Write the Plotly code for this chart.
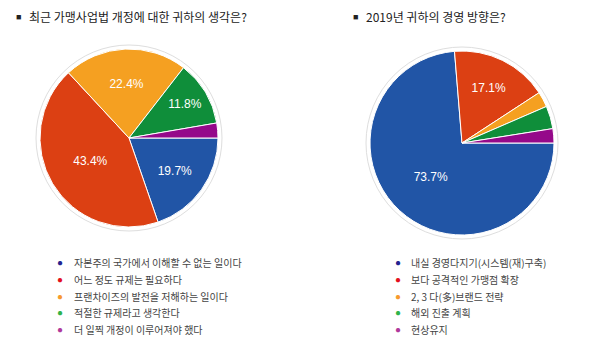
import plotly.graph_objects as go

W, H = 600, 345

title1 = "최근 가맹사업법 개정에 대한 귀하의 생각은?"
title2 = "2019년 귀하의 경영 방향은?"

labels1 = ["자본주의 국가에서 이해할 수 없는 일이다", "어느 정도 규제는 필요하다",
           "프랜차이즈의 발전을 저해하는 일이다", "적절한 규제라고 생각한다",
           "더 일찍 개정이 이루어져야 했다"]
values1 = [19.7, 43.4, 22.4, 11.8, 2.7]

labels2 = ["내실 경영다지기(시스템(재)구축)", "보다 공격적인 가맹점 확장",
           "2, 3 다(多)브랜드 전략", "해외 진출 계획", "현상유지"]
values2 = [73.7, 17.1, 2.7, 4.0, 2.5]

slice_colors = ["#2155a6", "#dc4013", "#f5a021", "#0f8e3a", "#95098a"]
dot_colors = ["#23238f", "#e3101d", "#f79a2e", "#2fb34a", "#b0399b"]

FONT = "Noto Sans CJK KR"


def px_x(x):
    return x / W


def px_y(y):
    return 1 - y / H


def pie_domain(cx, cy, r):
    return dict(x=[px_x(cx - r), px_x(cx + r)], y=[px_y(cy + r), px_y(cy - r)])


pies = [
    dict(labels=labels1, values=values1, cx=129, cy=138, r=89),
    dict(labels=labels2, values=values2, cx=462, cy=143, r=92),
]

fig = go.Figure()
shapes = []
for p in pies:
    texts = [f"{v}%" if v >= 10 else "" for v in p["values"]]
    fig.add_trace(go.Pie(
        labels=p["labels"], values=p["values"], text=texts,
        textinfo="text", textposition="inside", insidetextorientation="horizontal",
        textfont=dict(color="white", size=12, family="Liberation Sans, Arial"),
        marker=dict(colors=slice_colors, line=dict(color="white", width=1)),
        sort=False, direction="clockwise", rotation=90,
        domain=pie_domain(p["cx"], p["cy"], p["r"]),
        showlegend=False, hoverinfo="label+percent",
    ))
    rr = p["r"] + 4
    shapes.append(dict(type="circle", xref="paper", yref="paper",
                       x0=px_x(p["cx"] - rr), x1=px_x(p["cx"] + rr),
                       y0=px_y(p["cy"] + rr), y1=px_y(p["cy"] - rr),
                       line=dict(color="#dedede", width=1), layer="below"))

annotations = []
for sx, tx, t in [(18, 27, title1), (355, 364, title2)]:
    annotations.append(dict(text="■", x=px_x(sx), y=px_y(16), xanchor="center", yanchor="middle",
                            font=dict(size=9, color="#222")))
    annotations.append(dict(text=t, x=px_x(tx), y=px_y(16), xanchor="left", yanchor="middle",
                            font=dict(size=12, color="#222", family=FONT)))

legend_pos = [(60, 72, labels1), (398, 409, labels2)]
row_y = [262, 279, 296, 312, 329]
for dx, tx, labs in legend_pos:
    for i, lab in enumerate(labs):
        annotations.append(dict(text="●", x=px_x(dx), y=px_y(row_y[i]), xanchor="center",
                                yanchor="middle", font=dict(size=10, color=dot_colors[i])))
        annotations.append(dict(text=lab, x=px_x(tx), y=px_y(row_y[i]), xanchor="left",
                                yanchor="middle", font=dict(size=10, color="#444", family=FONT)))
for a in annotations:
    a.update(xref="paper", yref="paper", showarrow=False)

fig.update_layout(width=W, height=H, margin=dict(l=0, r=0, t=0, b=0),
                  paper_bgcolor="white", plot_bgcolor="white",
                  shapes=shapes, annotations=annotations)

fig.write_html("out.html")
